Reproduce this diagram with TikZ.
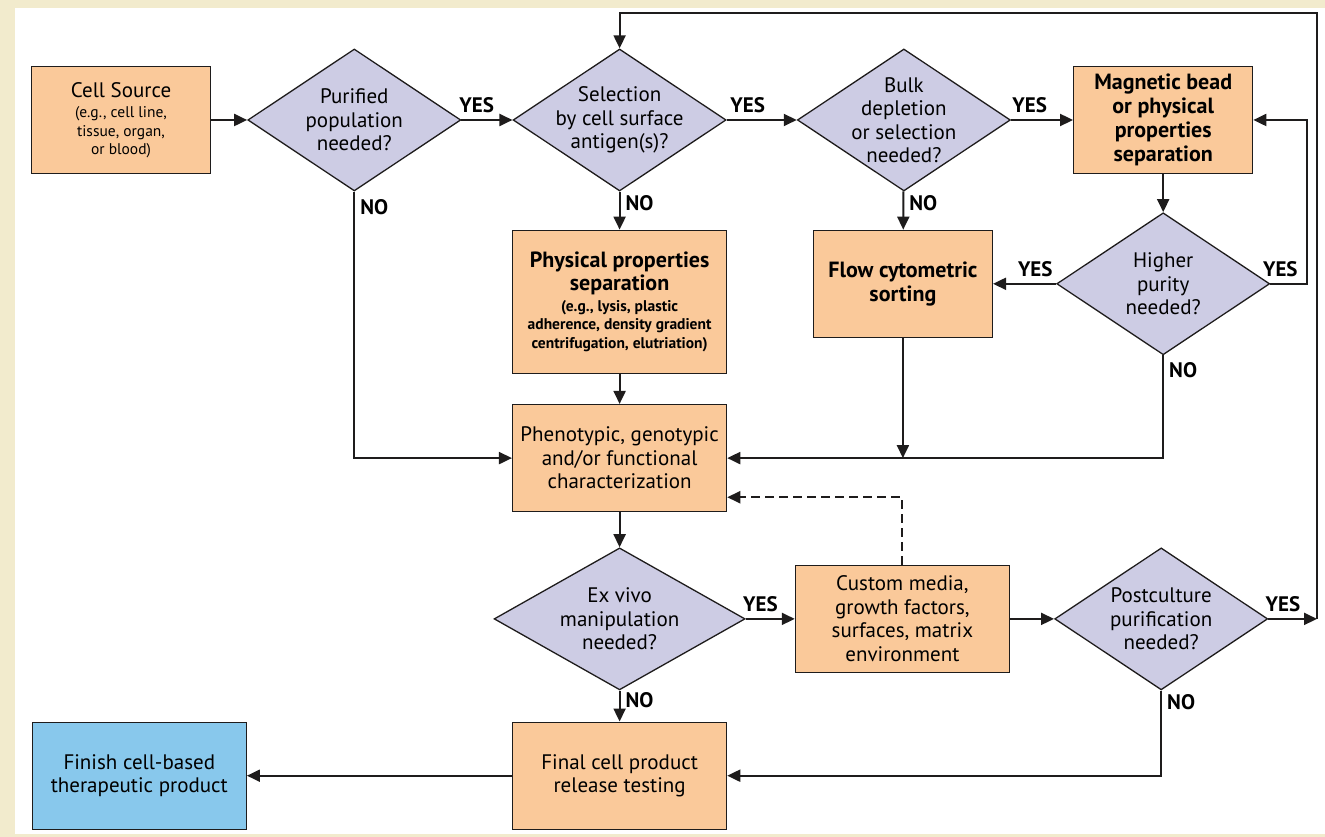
\documentclass[tikz,border=0pt]{standalone}
\usepackage{fontspec}
\setmainfont{PT Sans}
\usepackage{tikz}
\usetikzlibrary{shapes,arrows.meta,positioning}

\definecolor{boxorange}{RGB}{250,201,154}
\definecolor{qpurple}{RGB}{205,204,228}
\definecolor{endblue}{RGB}{136,200,236}
\definecolor{framebg}{RGB}{242,235,205}
\definecolor{ink}{RGB}{30,28,28}

\newcommand{\egfont}{\fontsize{15.5}{18}\selectfont}

\begin{document}
\begin{tikzpicture}[
    x=1pt, y=1pt,
    node distance=36pt and 36pt,
    box/.style={rectangle, draw=ink, line width=1.3pt, fill=boxorange, minimum width=214pt, minimum height=107pt, align=center, font=\fontsize{21}{23.5}\selectfont, inner sep=2pt},
    narrow/.style={box, minimum width=179pt},
    boldbox/.style={font=\bfseries\fontsize{22}{24}\selectfont},
    decision/.style={diamond, aspect=1.5, draw=ink, line width=1.3pt, fill=qpurple, minimum width=213pt, minimum height=142pt, inner sep=-10pt, align=center, font=\fontsize{21}{23.5}\selectfont},
    arrow/.style={-{Triangle[length=13pt, width=12pt]}, line width=2pt, draw=ink},
    lbl/.style={font=\bfseries\fontsize{21}{23}\selectfont, inner sep=2pt},
    yes/.style={lbl, above=4pt, pos=0.3},
    no/.style={lbl, right, xshift=3pt}
]
\useasboundingbox (0,0) rectangle (1325,837);
% Frame
\fill[framebg] (0,0) rectangle (1325,837);
\fill[white] (15,3) rectangle (1325,829);

% Purification
\node[narrow] (src) at (121,717) {Cell Source\\[-3pt] \egfont (e.g., cell line,\\[-5pt] \egfont tissue, organ,\\[-5pt] \egfont or blood)};
\node[decision, right=36pt of src] (pur) {Purified\\population\\needed?};
\node[decision, right=51pt of pur] (sel) {Selection\\by cell surface\\antigen(s)?};
\node[decision, right=70pt of sel] (bulk) {Bulk\\depletion\\or selection\\needed?};
\node[narrow, boldbox, right=62pt of bulk] (mag) {Magnetic bead\\or physical\\properties\\separation};
\node[decision, below=38pt of mag] (hp) {Higher\\purity\\needed?};
\node[narrow, boldbox, left=63pt of hp] (flow) {Flow cytometric\\sorting};
\node[box, minimum height=143pt, below=38pt of sel] (phys) {\textbf{\fontsize{22}{24}\selectfont Physical properties}\\ \textbf{\fontsize{22}{24}\selectfont separation}\\[-3pt] \egfont\bfseries (e.g., lysis, plastic\\[-5pt] \egfont\bfseries adherence, density gradient\\[-5pt] \egfont\bfseries centrifugation, elutriation)};

% Characterization and culture
\node[box, below=30pt of phys] (pheno) {Phenotypic, genotypic\\and/or functional\\characterization};
\node[decision, minimum width=251pt, below=35pt of pheno] (exv) {Ex vivo\\manipulation\\needed?};
\node[box, right=49pt of exv] (cust) {Custom media,\\growth factors,\\surfaces, matrix\\environment};
\node[decision, right=44pt of cust] (post) {Postculture\\purification\\needed?};

% Release
\node[box, below=31pt of exv] (final) {Final cell product\\release testing};
\node[box, fill=endblue, left=265pt of final] (finish) {Finish cell-based\\therapeutic product};

% Helper points
\coordinate (backR) at (1317,0 |- post.east);
\coordinate (backT) at (1317,824);
\coordinate (flowJ) at (flow.south |- pheno.east);

% Arrows
\draw[arrow] (src) -- (pur);
\draw[arrow] (pur) -- node[yes] {YES} (sel);
\draw[arrow] (sel) -- node[yes] {YES} (bulk);
\draw[arrow] (bulk) -- node[yes] {YES} (mag);
\draw[arrow] (pur.south) |- node[no, pos=0.03] {NO} (pheno.west);
\draw[arrow] (sel) -- node[no, pos=0.3] {NO} (phys);
\draw[arrow] (bulk) -- node[no, pos=0.3] {NO} (flow);
\draw[arrow] (mag) -- (hp);
\draw[arrow] (hp) -- node[yes, pos=0.33] {YES} (flow);
\draw[arrow] (hp.east) -- node[yes, pos=0.27] {YES} ++(37,0) |- (mag.east);
\draw[arrow] (hp.south) |- node[no, pos=0.07] {NO} (pheno.east);
\draw[arrow] (flow) -- (flowJ);
\draw[arrow] (phys) -- (pheno);
\draw[arrow] (pheno) -- (exv);
\draw[arrow, dash pattern=on 9pt off 5pt] (cust.north) |- ([yshift=15pt]pheno.south east);
\draw[arrow] (exv) -- node[yes] {YES} (cust);
\draw[arrow] (exv) -- node[no, pos=0.3] {NO} (final);
\draw[arrow] (cust) -- (post);
\draw[arrow] (post) -- node[yes] {YES} (backR);
\draw[arrow] (backR) -- (backT) -| (sel);
\draw[arrow] (post.south) |- node[no, pos=0.07] {NO} (final.east);
\draw[arrow] (final) -- (finish);

\end{tikzpicture}
\end{document}
